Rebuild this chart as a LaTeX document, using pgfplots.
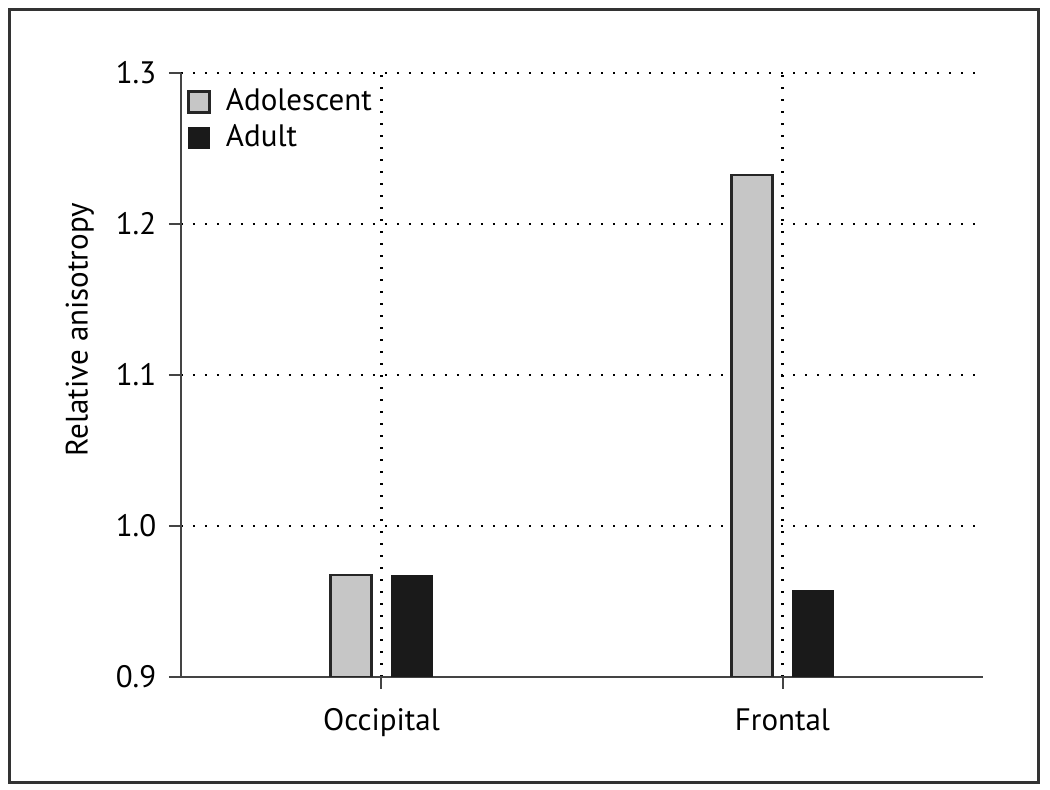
\documentclass[border=0pt]{standalone}
\usepackage{pgfplots}
\pgfplotsset{compat=1.18}
\usepackage{fontspec}
\setmainfont{PT Sans}
\definecolor{adol}{HTML}{C6C6C6}
\definecolor{adult}{HTML}{1A1A1A}
\definecolor{axgray}{HTML}{444444}
\begin{document}
\fontsize{15.5pt}{18pt}\selectfont
\begin{tikzpicture}
% bounding box: 1px = 0.5pt; axis SW corner at image (181,677)
\path[use as bounding box] (-90.5pt,-56.5pt) rectangle (434.5pt,338.5pt);
\draw[line width=1.5pt, color=black!80] (-85.5pt,-53pt) rectangle (428.5pt,333.5pt);
\begin{axis}[
  at={(0,0)}, anchor=south west,
  scale only axis,
  width=401pt, height=302pt,
  xmin=-0.5, xmax=1.5,
  ymin=0.9, ymax=1.3,
  xtick={0,1}, xticklabels={Occipital,Frontal},
  ytick={0.9,1.0,1.1,1.2,1.3},
  yticklabel style={xshift=-1pt, /pgf/number format/fixed, /pgf/number format/fixed zerofill, /pgf/number format/precision=1},
  /pgf/number format/assume math mode=true,
  axis lines=left,
  axis line style={-, line width=1pt, color=axgray},
  tick style={line width=1pt, color=axgray},
  tick align=outside,
  major tick length=6pt,
  grid=major,
  grid style={black, line width=1.1pt, dash pattern=on 1.1pt off 4.9pt},
  xticklabel style={yshift=-4.5pt},
  every axis y label/.style={at={(axis description cs:-0.126,0.575)}, rotate=90, anchor=center},
  ylabel={Relative anisotropy},
  legend style={at={(0,1)}, anchor=north west, draw=none, fill=none,
    xshift=1pt, yshift=-4pt, row sep=1.5pt, inner sep=2pt,
    nodes={inner sep=1.5pt}},
  legend cell align=left,
  legend image code/.code={\draw[#1] (0pt,-5.25pt) rectangle (10.5pt,5.25pt); \path (16.5pt,0pt);},
  clip=true,
]
\addplot[ybar, bar width=20.5pt, bar shift=-15.125pt, fill=adol, draw=black!85, line width=1.3pt]
  coordinates {(0,0.9675) (1,1.2325)};
\addplot[ybar, bar width=20.5pt, bar shift=15.125pt, fill=adult, draw=adult, line width=0.4pt]
  coordinates {(0,0.9675) (1,0.9575)};
\legend{Adolescent,Adult}
\end{axis}
\end{tikzpicture}
\end{document}
